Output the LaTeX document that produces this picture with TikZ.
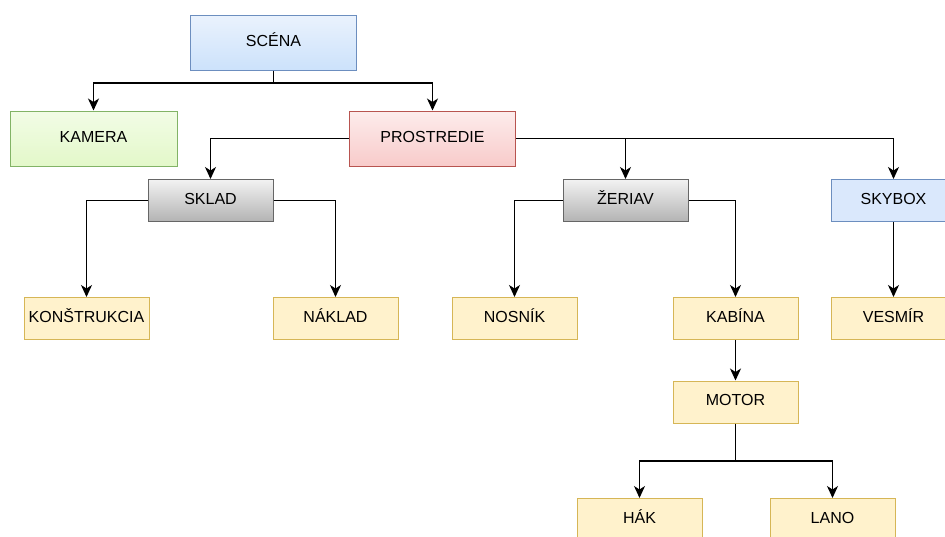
\documentclass[tikz,border=0pt]{standalone}
\usepackage{fontspec}
\setmainfont{Liberation Sans}
\usetikzlibrary{arrows.meta}
\definecolor{blueS}{HTML}{6C8EBF}
\definecolor{blueT}{HTML}{EAF2FD}
\definecolor{blueB}{HTML}{CCE2FB}
\definecolor{blueF}{HTML}{DAE8FC}
\definecolor{greenS}{HTML}{82B366}
\definecolor{greenT}{HTML}{F2FCE6}
\definecolor{greenB}{HTML}{E3F8C9}
\definecolor{redS}{HTML}{B85450}
\definecolor{redT}{HTML}{FDECEC}
\definecolor{redB}{HTML}{F8CBCA}
\definecolor{grayS}{HTML}{666666}
\definecolor{grayT}{HTML}{F2F2F2}
\definecolor{grayB}{HTML}{B3B3B3}
\definecolor{yelS}{HTML}{D6B656}
\definecolor{yelF}{HTML}{FFF2CC}
\tikzset{
  box/.style={rectangle, line width=1pt, inner sep=0pt, anchor=center,
    font=\fontsize{16}{19}\selectfont, text=black,
    text height=11.5pt, text depth=4pt},
  bigbox/.style={box, minimum width=166pt, minimum height=55pt},
  smallbox/.style={box, minimum width=125pt, minimum height=42pt},
  bluegrad/.style={draw=blueS, top color=blueT, bottom color=blueB},
  greengrad/.style={draw=greenS, top color=greenT, bottom color=greenB},
  redgrad/.style={draw=redS, top color=redT, bottom color=redB},
  graygrad/.style={draw=grayS, top color=grayT, bottom color=grayB},
  blueflat/.style={draw=blueS, fill=blueF},
  yelbox/.style={draw=yelS, fill=yelF},
  conn/.style={line width=1.5pt, draw=black,
    -{Stealth[length=12pt,width=11pt,inset=3.5pt]}},
}
\begin{document}
\begin{tikzpicture}[x=1pt,y=-1pt]
\useasboundingbox (0,0) rectangle (945,536);
\clip (0,0) rectangle (945,536);
\node[bigbox,bluegrad] (scena) at (273.5,42.5) {SCÉNA};
\node[bigbox,greengrad,minimum width=167pt] (kamera) at (93.5,138.5) {KAMERA};
\node[bigbox,redgrad] (prostredie) at (432.5,138.5) {PROSTREDIE};
\node[smallbox,graygrad] (sklad) at (210.5,200.5) {SKLAD};
\node[smallbox,graygrad] (zeriav) at (625.5,200.5) {ŽERIAV};
\node[smallbox,blueflat] (skybox) at (893.5,200.5) {SKYBOX};
\node[smallbox,yelbox] (konstrukcia) at (86.5,318.5) {KONŠTRUKCIA};
\node[smallbox,yelbox] (naklad) at (335.5,318.5) {NÁKLAD};
\node[smallbox,yelbox] (nosnik) at (514.5,318.5) {NOSNÍK};
\node[smallbox,yelbox] (kabina) at (735.5,318.5) {KABÍNA};
\node[smallbox,yelbox] (vesmir) at (893.5,318.5) {VESMÍR};
\node[smallbox,yelbox] (motor) at (735.5,402) {MOTOR};
\node[smallbox,yelbox] (hak) at (639.5,519.5) {HÁK};
\node[smallbox,yelbox] (lano) at (832.5,519.5) {LANO};
\draw[conn] (scena.south) -- ++(0,12.5) -| (kamera.north);
\draw[conn] (scena.south) ++(0,12.5) -| (prostredie.north);
\draw[conn] (prostredie.west) -| (sklad.north);
\draw[conn] (prostredie.east) -| (zeriav.north);
\draw[conn] (prostredie.east -| zeriav.north) -| (skybox.north);
\draw[conn] (sklad.west) -| (konstrukcia.north);
\draw[conn] (sklad.east) -| (naklad.north);
\draw[conn] (zeriav.west) -| (nosnik.north);
\draw[conn] (zeriav.east) -| (kabina.north);
\draw[conn] (skybox.south) -- (vesmir.north);
\draw[conn] (kabina.south) -- (motor.north);
\draw[conn] (motor.south) -- ++(0,37.5) -| (hak.north);
\draw[conn] (motor.south) ++(0,37.5) -| (lano.north);
\end{tikzpicture}
\end{document}
